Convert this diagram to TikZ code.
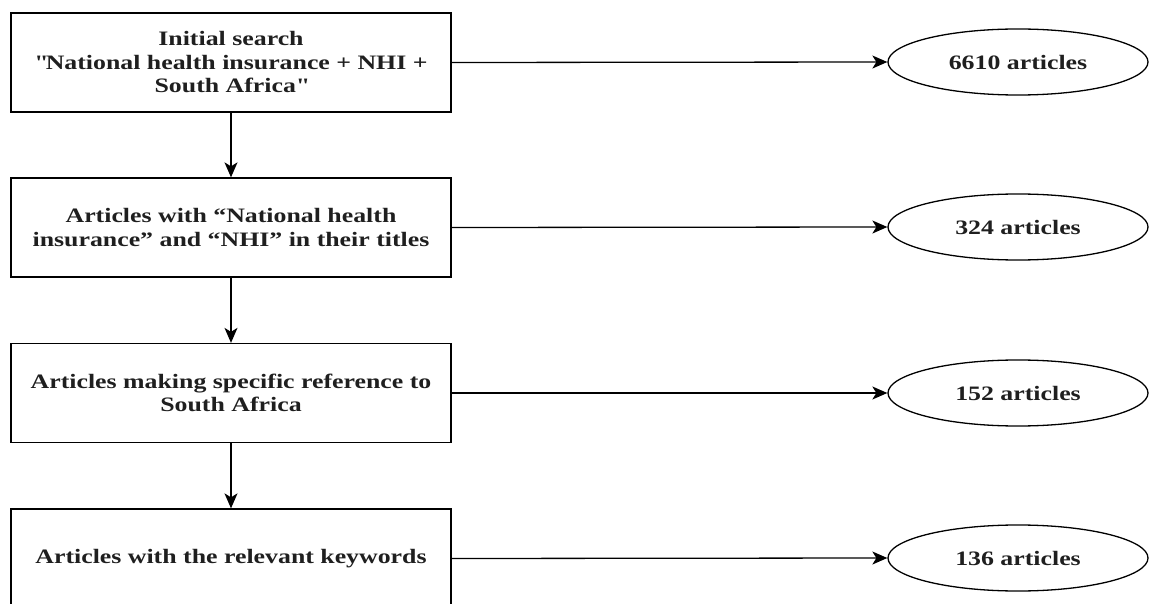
\documentclass[tikz,border=0pt]{standalone}
\usepackage{fontspec}
\setmainfont{Liberation Serif}[FakeStretch=1.26]
\usetikzlibrary{shapes.geometric, arrows.meta}
\begin{document}
\begin{tikzpicture}[x=1pt, y=-1pt,
  label font/.style={font=\fontsize{20.5}{23.5}\selectfont\bfseries, text=black!88},
  stepbox/.style={draw, line width=1.3pt, minimum width=440pt, minimum height=99pt,
    inner sep=0pt, align=center, label font},
  countnode/.style={draw, ellipse, line width=1.3pt, minimum width=260pt,
    minimum height=66pt, inner sep=0pt, label font},
  flow/.style={line width=1.3pt, -{Stealth[length=15pt, width=13pt, inset=4pt]}}]
\useasboundingbox (0,0) rectangle (1149,604);
\clip (0,0) rectangle (1149,604);

% screening stages
\node[stepbox] (s1) at (231,62.5) {Initial search\\\textquotedbl National health insurance + NHI +\\South Africa\textquotedbl};
\node[stepbox] (s2) at (231,227.5) {Articles with “National health\\insurance” and “NHI” in their titles};
\node[stepbox] (s3) at (231,393) {Articles making specific reference to\\South Africa};
\node[stepbox] (s4) at (231,558.5) {Articles with the relevant keywords};

% article counts
\node[countnode] (c1) at (1018,62) {6610 articles};
\node[countnode] (c2) at (1018,227) {324 articles};
\node[countnode] (c3) at (1018,393) {152 articles};
\node[countnode] (c4) at (1018,558) {136 articles};

% connectors
\draw[flow] (s1) -- (s2);
\draw[flow] (s2) -- (s3);
\draw[flow] (s3) -- (s4);
\draw[flow] (s1.east) -- (c1.west);
\draw[flow] (s2.east) -- (c2.west);
\draw[flow] (s3.east) -- (c3.west);
\draw[flow] (s4.east) -- (c4.west);
\end{tikzpicture}
\end{document}
